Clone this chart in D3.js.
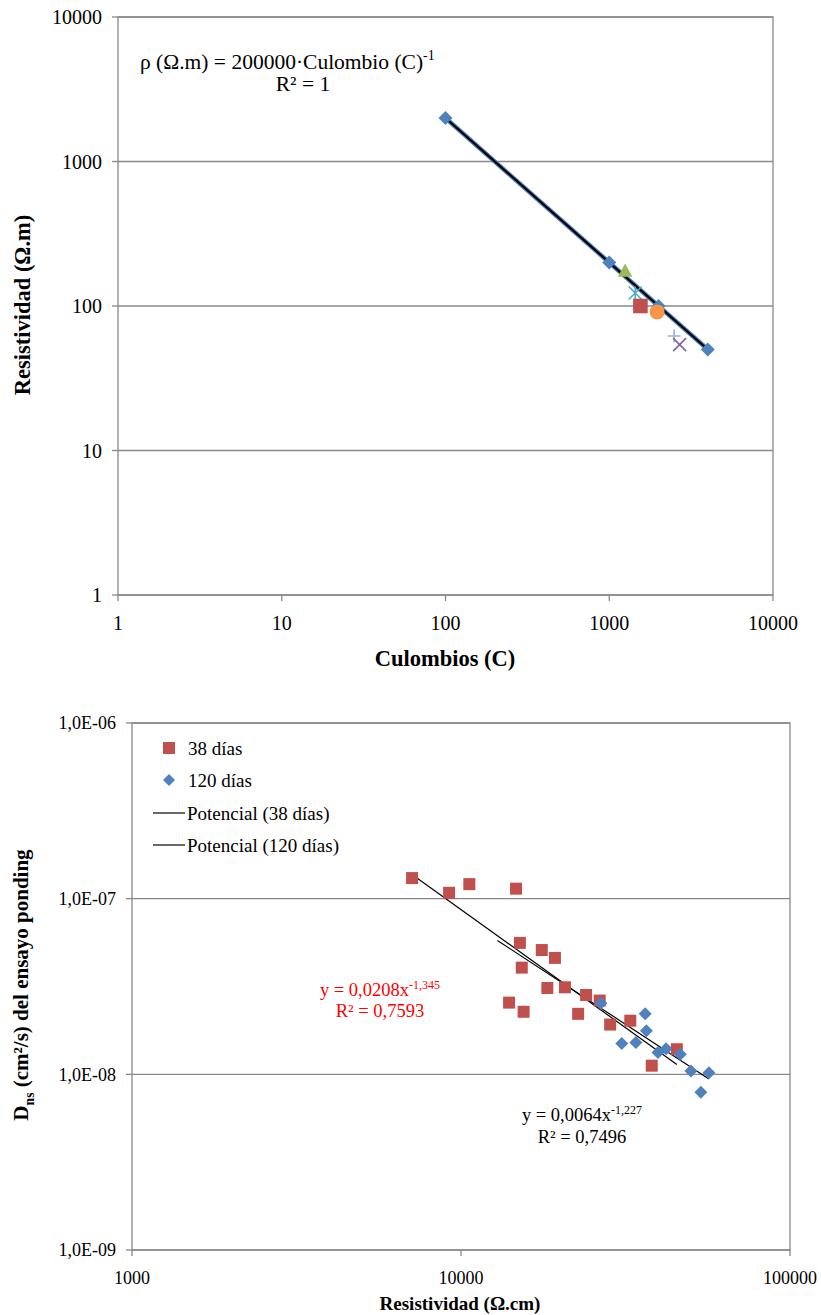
<!DOCTYPE html>
<html>
<head>
<meta charset="utf-8">
<script src="https://cdn.jsdelivr.net/npm/d3@7"></script>
<style>
    body { margin: 0; background: #fff; }
</style>
</head>
<body>
<svg id="chart" width="821" height="1315" style="font-family: 'Liberation Serif', 'Times New Roman', serif;"></svg>
<script>
// Grafico 1: Resistividad vs Culombios
const topTicks = [1, 10, 100, 1000, 10000];
const topTickLabels = ["1", "10", "100", "1000", "10000"];
const mainC = [100, 1000, 2000, 4000];
const mainRho = [2000, 200, 100, 50];
const extraC = [1250, 1440, 1550, 1960, 2490, 2690];
const extraRho = [175, 123, 100, 91, 62, 54];
const extraShapes = ["triangle", "asterisk", "square", "circle", "plus", "cross"];
const extraColors = ["#9BBB59", "#4BACC6", "#C0504D", "#F79646", "#95B3D7", "#8064A2"];
const topTrendCoef = [200000, -1];
const topTrendRange = [100, 4000];

// Grafico 2: Dns vs Resistividad
const botXTicks = [1000, 10000, 100000];
const botXLabels = ["1000", "10000", "100000"];
const botYTicks = [1e-6, 1e-7, 1e-8, 1e-9];
const botYLabels = ["1,0E-06", "1,0E-07", "1,0E-08", "1,0E-09"];
const res38 = [7100, 9200, 10600, 14700, 15100, 17600, 19300, 15300, 18300, 20700,
               24000, 26400, 14000, 15500, 22700, 28400, 32700, 45300, 38000];
const dns38 = [1.31e-7, 1.08e-7, 1.21e-7, 1.14e-7, 5.6e-8, 5.1e-8, 4.6e-8, 4.05e-8, 3.1e-8, 3.13e-8,
               2.83e-8, 2.63e-8, 2.56e-8, 2.27e-8, 2.21e-8, 1.92e-8, 2.02e-8, 1.39e-8, 1.12e-8];
const res120 = [26600, 36300, 36600, 30800, 34000, 39700, 42000, 46400, 50000, 56700, 53600];
const dns120 = [2.54e-8, 2.21e-8, 1.77e-8, 1.50e-8, 1.52e-8, 1.33e-8, 1.40e-8, 1.30e-8, 1.045e-8, 1.02e-8, 7.9e-9];
const trend38Coef = [0.0208, -1.345];
const trend38Range = [7100, 45300];
const trend120Coef = [0.0064, -1.227];
const trend120Range = [12900, 56700];
const legendNames = ["38 días", "120 días", "Potencial (38 días)", "Potencial (120 días)"];

const gridColor = "#898989";
const blue = "#4F81BD";
const red = "#C0504D";

const svg = d3.select("#chart");
svg.append("rect").attr("width", 821).attr("height", 1315).attr("fill", "#fff");

function markerPath(shape, r) {
    if (shape === "diamond") return `M0,${-r}L${r},0L0,${r}L${-r},0Z`;
    if (shape === "square") return `M${-r},${-r}H${r}V${r}H${-r}Z`;
    if (shape === "triangle") return `M0,${-r}L${r},${r * 0.8}L${-r},${r * 0.8}Z`;
    if (shape === "plus") return `M${-r},0H${r}M0,${-r}V${r}`;
    if (shape === "cross") return `M${-r},${-r}L${r},${r}M${-r},${r}L${r},${-r}`;
    if (shape === "asterisk") return `M${-r},${-r}L${r},${r}M${-r},${r}L${r},${-r}M0,${-r}V${r}`;
    return "";
}

// texto con exponente / subindice (dy de vuelta en el siguiente tramo)
function richText(g, x, y, parts, size, anchor, extra) {
    let t = g.append("text")
        .attr("x", x).attr("y", y)
        .attr("dy", "0.35em")
        .attr("text-anchor", anchor)
        .style("font-size", size + "px");
    if (extra) extra(t);
    let shift = 0;
    parts.forEach(p => {
        let s = t.append("tspan").text(p.t);
        let target = p.sup ? -size * 0.38 : p.sub ? size * 0.25 : 0;
        if (target !== shift) s.attr("dy", target - shift);
        shift = target;
        if (p.sup || p.sub) s.style("font-size", (size * 0.65) + "px");
    });
    return t;
}

function drawFrame(g, x, y, xTicks, yTicks, xLabels, yLabels, fontSize, xLabelY, yLabelX) {
    let [x0, x1] = x.range();
    let [y0, y1] = y.range();
    // lineas de division
    g.append("g").selectAll("line")
        .data(yTicks)
        .enter()
        .append("line")
        .attr("x1", x0).attr("x2", x1)
        .attr("y1", d => y(d)).attr("y2", d => y(d))
        .attr("stroke", gridColor).attr("stroke-width", 1.3);
    g.append("rect")
        .attr("x", x0).attr("y", y1)
        .attr("width", x1 - x0).attr("height", y0 - y1)
        .attr("fill", "none").attr("stroke", gridColor).attr("stroke-width", 1.3);

    // marcas
    g.append("g").selectAll("line")
        .data(yTicks).enter().append("line")
        .attr("x1", x0 - 6).attr("x2", x0)
        .attr("y1", d => y(d)).attr("y2", d => y(d))
        .attr("stroke", gridColor).attr("stroke-width", 1.3);
    g.append("g").selectAll("line")
        .data(xTicks).enter().append("line")
        .attr("x1", d => x(d)).attr("x2", d => x(d))
        .attr("y1", y0).attr("y2", y0 + 6)
        .attr("stroke", gridColor).attr("stroke-width", 1.3);

    g.append("g").selectAll("text")
        .data(yTicks).enter().append("text")
        .attr("x", yLabelX)
        .attr("y", d => y(d))
        .attr("dy", "0.35em")
        .attr("text-anchor", "end")
        .style("font-size", fontSize + "px")
        .text((d, i) => yLabels[i]);
    g.append("g").selectAll("text")
        .data(xTicks).enter().append("text")
        .attr("x", d => x(d))
        .attr("y", xLabelY)
        .attr("dy", "0.35em")
        .attr("text-anchor", "middle")
        .style("font-size", fontSize + "px")
        .text((d, i) => xLabels[i]);
}

// ---------- Grafico 1 ----------
const g1 = svg.append("g");
const x1 = d3.scaleLog().domain([1, 10000]).range([118, 773]);
const y1 = d3.scaleLog().domain([1, 10000]).range([595, 17]);
drawFrame(g1, x1, y1, topTicks, topTicks, topTickLabels, topTickLabels, 20, 623, 102);

g1.append("text")
    .attr("x", 445).attr("y", 658).attr("dy", "0.35em")
    .attr("text-anchor", "middle")
    .style("font-size", "22.5px").style("font-weight", "bold")
    .text("Culombios (C)");
g1.append("text")
    .attr("transform", "translate(22,305) rotate(-90)")
    .attr("dy", "0.35em")
    .attr("text-anchor", "middle")
    .style("font-size", "22.5px").style("font-weight", "bold")
    .text("Resistividad (\u03A9.m)");

const lineGen1 = d3.line().x(d => x1(d[0])).y(d => y1(d[1]));
g1.append("path")
    .datum(mainC.map((c, i) => [c, mainRho[i]]))
    .attr("d", lineGen1)
    .attr("fill", "none").attr("stroke", blue).attr("stroke-width", 4.5);
g1.append("path")
    .datum(topTrendRange.map(c => [c, topTrendCoef[0] * Math.pow(c, topTrendCoef[1])]))
    .attr("d", lineGen1)
    .attr("fill", "none").attr("stroke", "#000").attr("stroke-width", 2.2);

g1.append("g").selectAll("path")
    .data(mainC.map((c, i) => [c, mainRho[i]]))
    .enter().append("path")
    .attr("transform", d => `translate(${x1(d[0])},${y1(d[1])})`)
    .attr("d", markerPath("diamond", 7))
    .attr("fill", blue);

extraShapes.forEach((s, i) => {
    let px = x1(extraC[i]), py = y1(extraRho[i]);
    if (s === "circle") {
        g1.append("circle").attr("cx", px).attr("cy", py).attr("r", 7.5).attr("fill", extraColors[i]);
    } else if (s === "plus" || s === "cross" || s === "asterisk") {
        g1.append("path")
            .attr("transform", `translate(${px},${py})`)
            .attr("d", markerPath(s, 6.5))
            .attr("fill", "none").attr("stroke", extraColors[i]).attr("stroke-width", 1.6);
    } else {
        g1.append("path")
            .attr("transform", `translate(${px},${py})`)
            .attr("d", markerPath(s, 7.3))
            .attr("fill", extraColors[i]);
    }
});

richText(g1, 140, 61, [{t: "\u03C1 (\u03A9.m) = 200000\u00B7Culombio (C)"}, {t: "-1", sup: true}], 21.5, "start");
richText(g1, 303, 83, [{t: "R\u00B2 = 1"}], 21.5, "middle");

// ---------- Grafico 2 ----------
const g2 = svg.append("g");
const x2 = d3.scaleLog().domain([1000, 100000]).range([132, 790]);
const y2 = d3.scaleLog().domain([1e-9, 1e-6]).range([1250, 723]);
drawFrame(g2, x2, y2, botXTicks, botYTicks, botXLabels, botYLabels, 18, 1278, 116);

g2.append("text")
    .attr("x", 460).attr("y", 1303).attr("dy", "0.35em")
    .attr("text-anchor", "middle")
    .style("font-size", "19px").style("font-weight", "bold")
    .text("Resistividad (\u03A9.cm)");
richText(g2, 0, 0, [{t: "D"}, {t: "ns", sub: true}, {t: " (cm\u00B2/s) del ensayo ponding"}], 21, "middle",
    t => t.attr("transform", "translate(21,985) rotate(-90)").style("font-weight", "bold"));

const lineGen2 = d3.line().x(d => x2(d[0])).y(d => y2(d[1]));
[[trend38Coef, trend38Range], [trend120Coef, trend120Range]].forEach(([coef, range]) => {
    g2.append("path")
        .datum(range.map(v => [v, coef[0] * Math.pow(v, coef[1])]))
        .attr("d", lineGen2)
        .attr("fill", "none").attr("stroke", "#000").attr("stroke-width", 1.2);
});

g2.append("g").selectAll("path")
    .data(res38.map((v, i) => [v, dns38[i]]))
    .enter().append("path")
    .attr("transform", d => `translate(${x2(d[0])},${y2(d[1])})`)
    .attr("d", markerPath("square", 6))
    .attr("fill", red);
g2.append("g").selectAll("path")
    .data(res120.map((v, i) => [v, dns120[i]]))
    .enter().append("path")
    .attr("transform", d => `translate(${x2(d[0])},${y2(d[1])})`)
    .attr("d", markerPath("diamond", 6.5))
    .attr("fill", blue);

// leyenda
const legY = [748, 780, 813, 845];
const leg = g2.append("g");
leg.append("path").attr("transform", `translate(169,${legY[0]})`).attr("d", markerPath("square", 6)).attr("fill", red);
leg.append("path").attr("transform", `translate(169,${legY[1]})`).attr("d", markerPath("diamond", 6)).attr("fill", blue);
[2, 3].forEach(i => {
    leg.append("line").attr("x1", 153).attr("x2", 185)
        .attr("y1", legY[i]).attr("y2", legY[i])
        .attr("stroke", "#000").attr("stroke-width", 1.2);
});
leg.selectAll("text")
    .data(legendNames).enter().append("text")
    .attr("x", (d, i) => i < 2 ? 188 : 187)
    .attr("y", (d, i) => legY[i])
    .attr("dy", "0.35em")
    .style("font-size", "19px")
    .text(d => d);

richText(g2, 380, 990, [{t: "y = 0,0208x"}, {t: "-1,345", sup: true}], 18.5, "middle",
    t => t.style("fill", "#FF0000"));
richText(g2, 380, 1011, [{t: "R\u00B2 = 0,7593"}], 18.5, "middle",
    t => t.style("fill", "#FF0000"));
richText(g2, 582, 1115, [{t: "y = 0,0064x"}, {t: "-1,227", sup: true}], 18.5, "middle");
richText(g2, 582, 1137, [{t: "R\u00B2 = 0,7496"}], 18.5, "middle");
</script>
</body>
</html>
